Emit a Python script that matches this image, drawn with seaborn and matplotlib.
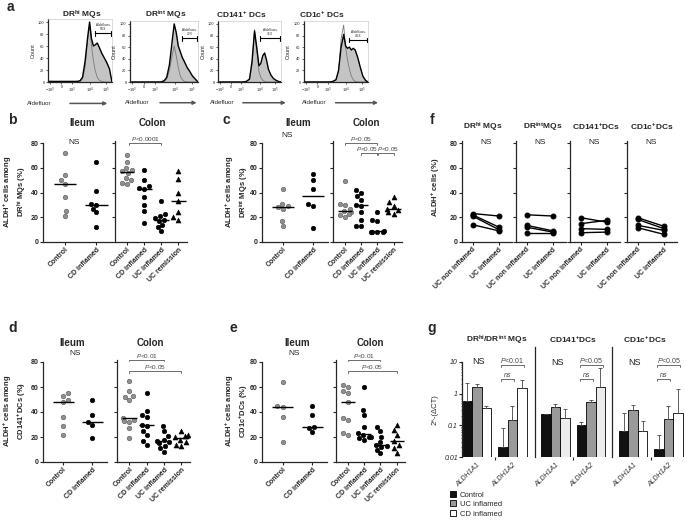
import matplotlib
matplotlib.use("Agg")
import matplotlib.pyplot as plt
from matplotlib.patches import Patch
import numpy as np
import pandas as pd
import seaborn as sns

sns.set_style("ticks")
plt.rcParams["font.family"] = ["Liberation Sans", "DejaVu Sans"]
plt.rcParams["mathtext.fontset"] = "custom"
plt.rcParams["mathtext.rm"] = "Liberation Sans"
plt.rcParams["mathtext.it"] = "Liberation Sans:italic"
plt.rcParams["mathtext.bf"] = "Liberation Sans:bold"
plt.rcParams["axes.linewidth"] = 0.9

W, H = 685, 530

# ---------------- data ----------------
# a: flow histograms (x on a 0-100 display scale, count in % of max)
hist_titles = [r"DR$^{\mathbf{hi}}$ MQs", r"DR$^{\mathbf{int}}$ MQs",
               r"CD141$^{\mathbf{+}}$ DCs", r"CD1c$^{\mathbf{+}}$ DCs"]
hist_x = [0, 40, 45, 50, 54, 58, 62, 65, 68, 71, 74, 77, 80, 84, 88, 92, 96, 100]
hist_sample = [
    [1, 1, 1, 2, 8, 35, 75, 100, 72, 60, 62, 65, 58, 48, 40, 32, 22, 0],
    [0, 0, 0, 2, 8, 30, 70, 100, 85, 62, 52, 42, 35, 25, 18, 10, 5, 0],
    [0, 0, 1, 5, 35, 88, 55, 28, 32, 45, 50, 38, 22, 12, 6, 3, 1, 0],
    [0, 0, 1, 4, 20, 60, 82, 62, 58, 60, 55, 58, 55, 42, 25, 10, 3, 0],
]
hist_control = [
    [0, 0, 0, 1, 5, 25, 70, 95, 60, 35, 18, 8, 3, 1, 0, 0, 0, 0],
    [0, 0, 0, 1, 5, 20, 45, 62, 45, 25, 10, 4, 1, 0, 0, 0, 0, 0],
    [0, 0, 1, 4, 30, 90, 50, 18, 8, 3, 1, 0, 0, 0, 0, 0, 0, 0],
    [0, 0, 1, 3, 18, 75, 98, 60, 38, 22, 10, 4, 1, 0, 0, 0, 0, 0],
]
hist_ticklabels = [r"$-10^3$", "0", r"$10^3$", r"$10^4$", r"$10^5$"]
gate_values = ["50.9", "20.5", "36.0", "44.8"]

# b-e: ALDH+ cells (%) per patient
ileum_groups = ["Control", "CD inflamed"]
colon_groups = ["Control", "CD inflamed", "UC inflamed", "UC remission"]

b_ileum = [[72, 54, 50, 47, 36, 25, 21], [65, 41, 31, 30, 27, 24, 12]]
b_colon = [[70, 65, 60, 58, 57, 56, 52, 50, 48, 47],
           [58, 50, 45, 44, 43, 36, 30, 25, 15],
           [33, 23, 21, 19, 18, 17, 14, 12, 9],
           [57, 51, 40, 33, 24, 20, 18]]

c_ileum = [[43, 31, 29, 28, 27, 17, 13], [55, 50, 43, 31, 29, 11]]
c_colon = [[49, 31, 30, 27, 25, 24, 23, 22, 20],
           [42, 40, 37, 34, 30, 29, 24, 18, 13, 13],
           [24, 18, 17, 9, 8, 8, 8, 8],
           [36, 32, 29, 27, 26, 24, 23]]

d_ileum = [[55, 53, 50, 48, 36, 29, 22], [50, 38, 32, 30, 19]]
d_colon = [[65, 57, 53, 52, 50, 35, 34, 33, 32, 27, 19],
           [55, 41, 38, 36, 30, 29, 25, 22, 17, 14],
           [29, 25, 21, 18, 17, 16, 15, 13, 11, 8],
           [25, 22, 21, 20, 18, 16, 14, 13]]

e_ileum = [[64, 45, 44, 36, 16], [45, 38, 28, 27, 24]]
e_colon = [[62, 60, 57, 55, 48, 35, 34, 23, 22],
           [60, 42, 38, 28, 23, 22, 20, 20, 19, 18],
           [28, 25, 20, 16, 14, 13, 12, 10, 7],
           [30, 26, 22, 17, 14, 11, 7]]

# f: paired UC samples
f_titles = [r"DR$^{\mathbf{hi}}$ MQs", r"DR$^{\mathbf{int}}$MQs",
            r"CD141$^{\mathbf{+}}$DCs", r"CD1c$^{\mathbf{+}}$DCs"]
f_groups = ["UC non inflamed", "UC inflamed"]
f_non_inflamed = [[23, 22, 21, 14], [22, 13.5, 12, 7], [19.7, 14.8, 10.8, 7.5], [19.7, 18.3, 13.5, 11.6]]
f_inflamed = [[21, 12, 10, 9], [21, 9, 8, 7], [16, 17.5, 10.2, 8], [12.7, 10.8, 9.4, 6.2]]

# g: qPCR 2^-(dCT), rows = gene, cols = condition; *_top = top of error bar
g_titles = [r"DR$^{\mathbf{hi}}$/DR$^{\mathbf{int}}$ MQs", r"CD141$^{\mathbf{+}}$DCs", r"CD1c$^{\mathbf{+}}$DCs"]
g_genes = ["ALDH1A1", "ALDH1A2"]
g_conditions = ["Control", "UC inflamed", "CD inflamed"]
g_mq = [[0.57, 1.6, 0.35], [0.021, 0.15, 1.5]]
g_mq_top = [[2.2, 2.0, 0.42], [0.082, 0.4, 2.8]]
g_cd141 = [[0.23, 0.38, 0.17], [0.10, 0.53, 1.6]]
g_cd141_top = [[0.23, 0.48, 0.33], [0.125, 0.65, 6.5]]
g_cd1c = [[0.065, 0.3, 0.065], [0.018, 0.16, 0.25]]
g_cd1c_top = [[0.245, 0.45, 0.135], [0.05, 0.4, 1.4]]
g_sig = ["P<0.01", "P<0.05", "P<0.05"]


fig = plt.figure(figsize=(W / 100, H / 100), dpi=100)


def px_axes(x0, y0, x1, y1):
    return fig.add_axes([x0 / W, 1 - y1 / H, (x1 - x0) / W, (y1 - y0) / H])


def ftext(x, y, s, **kw):
    fig.text(x / W, 1 - y / H, s, **kw)


def bracket(ax, x1, x2, y, label, dy, fs=5, italic_all=False, tx=None):
    ax.plot([x1, x1, x2, x2], [y - dy, y, y, y - dy], color="#555555", lw=0.6, clip_on=False)
    txt = r"$\mathit{" + label + "}$" if italic_all else r"$\mathit{P}$" + label[1:]
    ax.text((x1 + x2) / 2 if tx is None else tx, y, txt, ha="center", va="bottom",
            fontsize=fs, color="#444444")


# ---------------- panel letters ----------------
for letter, (x, y) in zip("abcdefg", [(7, 7), (8, 120), (222, 120), (8, 328), (230, 328), (430, 120), (427, 328)]):
    ftext(x, y, letter, fontsize=10, fontweight="bold", ha="left", va="center")

# ---------------- a ----------------
hist_rects = [(48, 19, 112, 82), (130, 21, 198, 82), (218, 21, 281, 82), (304, 21, 368, 82)]
title_x = [82, 166, 241, 322]
gates = [(74, 98, 81), (76, 99, 75), (66, 99, 75), (70, 99, 72)]
label_off = [-0.33, -0.08, -0.13, -0.03]
arrow_span = [(0.3, 0.97), (0.4, 1.02), (0.35, 1.12), (0.45, 1.2)]
for k in range(4):
    ax = px_axes(*hist_rects[k])
    ax.fill_between(hist_x, hist_sample[k], color="#c4c4c4", lw=0)
    sns.lineplot(x=hist_x, y=hist_control[k], color="#7a7a7a", lw=0.6, ax=ax)
    sns.lineplot(x=hist_x, y=hist_sample[k], color="black", lw=1.0, ax=ax)
    ax.set_xlim(0, 100)
    ax.set_ylim(0, 105)
    ax.set_xticks([3, 21, 37, 66, 91])
    ax.set_xticklabels(hist_ticklabels)
    ax.set_yticks([0, 20, 40, 60, 80, 100])
    ax.tick_params(labelsize=2.8, length=1.5, width=0.5, pad=1)
    ax.set_ylabel("Count", fontsize=4, labelpad=2)
    for s in ["top", "right"]:
        ax.spines[s].set_color("#cccccc")
        ax.spines[s].set_linewidth(0.5)
    gx0, gx1, gy = gates[k]
    ax.plot([gx0, gx1], [gy, gy], color="black", lw=0.8)
    ax.plot([gx0, gx0], [gy - 4, gy + 4], color="black", lw=0.8)
    ax.plot([gx1, gx1], [gy - 4, gy + 4], color="black", lw=0.8)
    ax.text((gx0 + gx1) / 2, gy + 4, "Aldefluor+\n" + gate_values[k], fontsize=2.3,
            ha="center", va="bottom", linespacing=1.0)
    ftext(title_x[k], 15, hist_titles[k], fontsize=6, fontweight="bold", ha="center", va="center")
    ax.text(label_off[k], -0.34, "Aldefluor", transform=ax.transAxes, fontsize=4.5,
            va="center", ha="left")
    ax.annotate("", xy=(arrow_span[k][1], -0.34), xytext=(arrow_span[k][0], -0.34),
                xycoords="axes fraction",
                arrowprops=dict(arrowstyle="-|>", color="#555555", lw=1.1, mutation_scale=5))
    ax.set_xlabel("")


# ---------------- b-e ----------------
def scatter_panel(ileum_x, colon_x, y_zero, y_eighty, ileum_vals, colon_vals, ylabel,
                  label_px, titles_x, title_y, ns_xy, brackets):
    scale = (y_zero - y_eighty) / 80
    top = y_zero - 88 * scale
    ax_i = px_axes(ileum_x[0], top, ileum_x[1], y_zero)
    ax_c = px_axes(colon_x[0], top, colon_x[1], y_zero)
    styles = {"Control": ("#8f8f8f", "o", "#5a5a5a"),
              "CD inflamed": ("black", "o", "black"),
              "UC inflamed": ("black", "o", "black"),
              "UC remission": ("black", "^", "black")}
    for ax, groups, vals, xlim, hw in [(ax_i, ileum_groups, ileum_vals, (-0.7, 1.5), 0.36),
                                       (ax_c, colon_groups, colon_vals, (-0.72, 3.5), 0.42)]:
        df = pd.DataFrame({"group": np.repeat(groups, [len(v) for v in vals]),
                           "value": np.concatenate(vals)})
        for gi, g in enumerate(groups):
            col, mk, ec = styles[g]
            sub = df[df["group"] == g]
            sns.swarmplot(data=sub, x="group", y="value", order=groups, ax=ax, color=col,
                          marker=mk, size=3.3 if mk == "o" else 3.6, edgecolor=ec,
                          linewidth=0.4, warn_thresh=1)
            ax.hlines(np.median(sub["value"]), gi - hw, gi + hw, color="black", lw=1.0, zorder=5)
        ax.set_xlim(*xlim)
        ax.set_ylim(0, 88)
        ax.set_yticks([0, 20, 40, 60, 80])
        ax.set_xlabel("")
        ax.set_ylabel("")
        sns.despine(ax=ax)
        ax.spines["left"].set_bounds(0, 80 if ax is ax_i else 82)
        ax.tick_params(labelsize=5, length=2, width=0.8, pad=1)
        ax.set_xticks(range(len(groups)))
        ax.set_xticklabels(groups, rotation=45, ha="right", rotation_mode="anchor",
                           fontsize=5, fontweight="bold")
        for lbl in ax.get_yticklabels():
            lbl.set_fontweight("bold")
    ax_c.tick_params(axis="y", labelleft=False)
    ftext(label_px, (top + y_zero) / 2 + 4, ylabel, fontsize=5.5, fontweight="bold",
          rotation=90, ha="center", va="center", multialignment="center", linespacing=1.2)
    ftext(titles_x[0], title_y, "Ileum", fontsize=7, fontweight="bold", ha="center", va="center")
    ftext(titles_x[1], title_y, "Colon", fontsize=7, fontweight="bold", ha="center", va="center")
    ax_i.text(ns_xy[0], ns_xy[1], "NS", fontsize=6, ha="center", va="center", color="#222222")
    for x1, x2, y, lab, tx in brackets:
        bracket(ax_c, x1, x2, y, lab, 1.5, fs=4.6, tx=tx)


scatter_panel((43, 112), (115, 187), 242, 143, b_ileum, b_colon,
              "ALDH$^{\\mathbf{+}}$ cells among\nDR$^{\\mathbf{hi}}$ MQs (%)", 15,
              (82, 152), 123, (0.3, 80), [(0.1, 2.0, 80, "P<0.0001", None)])
scatter_panel((262, 328), (333, 402), 242, 143, c_ileum, c_colon,
              "ALDH$^{\\mathbf{+}}$ cells among\nDR$^{\\mathbf{int}}$ MQs (%)", 237,
              (298, 366), 123, (0.15, 86), [(0.0, 2.0, 80, "P<0.05", None),
                                            (1.0, 1.95, 72, "P<0.05", 1.35),
                                            (2.05, 3.0, 72, "P<0.05", 2.65)])
scatter_panel((43, 107), (117, 190), 462, 362, d_ileum, d_colon,
              "ALDH$^{\\mathbf{+}}$ cells among\nCD141$^{\\mathbf{+}}$DCs (%)", 15,
              (72, 150), 343, (0.4, 87), [(0.0, 2.0, 82, "P<0.01", None),
                                          (0.0, 3.0, 73, "P<0.05", None)])
scatter_panel((262, 327), (336, 405), 462, 362, e_ileum, e_colon,
              "ALDH$^{\\mathbf{+}}$ cells among\nCD1c$^{\\mathbf{+}}$DCs (%)", 237,
              (297, 370), 343, (0.4, 87), [(0.0, 2.0, 82, "P<0.01", None),
                                           (0.0, 3.0, 73, "P<0.05", None)])

# ---------------- f ----------------
f_x0 = [462, 516, 570, 627]
f_title_x = [483, 543, 596, 652]
scale = (242 - 143) / 80
for k in range(4):
    ax = px_axes(f_x0[k], 242 - 88 * scale, f_x0[k] + 50, 242)
    df = pd.DataFrame({"pos": [0] * 4 + [1] * 4,
                       "value": f_non_inflamed[k] + f_inflamed[k],
                       "subject": list(range(4)) * 2})
    sns.lineplot(data=df, x="pos", y="value", units="subject", estimator=None, color="black",
                 marker="o", markersize=3.5, markeredgecolor="black", lw=1.0, ax=ax)
    ax.set_xlim(-0.4, 1.5)
    ax.set_ylim(0, 88)
    ax.set_yticks([0, 20, 40, 60, 80])
    ax.set_xticks([0, 1])
    ax.set_xticklabels(f_groups, rotation=45, ha="right", rotation_mode="anchor",
                       fontsize=5, fontweight="bold")
    ax.set_xlabel("")
    ax.set_ylabel("")
    sns.despine(ax=ax)
    ax.spines["left"].set_bounds(0, 82)
    ax.tick_params(labelsize=5, length=2, width=0.8, pad=1)
    for lbl in ax.get_yticklabels():
        lbl.set_fontweight("bold")
    if k > 0:
        ax.tick_params(axis="y", labelleft=False)
    else:
        ax.set_ylabel("ALDH$^{\\mathbf{+}}$ cells (%)", fontsize=5.5, fontweight="bold", labelpad=6)
    ax.text(0.5, 80, "NS", fontsize=6, ha="center", va="center", color="#222222")
    ftext(f_title_x[k], 127, f_titles[k], fontsize=6, fontweight="bold", ha="center", va="center")

# ---------------- g ----------------
g_rects = [(462, 362, 529, 457, 10), (535, 347, 607, 457, 30), (612, 347, 685, 457, 30)]
g_xlims = [(-0.42, 1.47), (-0.57, 1.45), (-0.6, 1.47)]
g_title_x = [497, 573, 645]
g_vals = [g_mq, g_cd141, g_cd1c]
g_tops = [g_mq_top, g_cd141_top, g_cd1c_top]
g_white = ["white", "#ececec", "white"]
offsets = [-0.8 / 3, 0, 0.8 / 3]
for k in range(3):
    x0, y0, x1, y1, ytop = g_rects[k]
    ax = px_axes(x0, y0, x1, y1)
    df = pd.DataFrame({"gene": np.repeat(g_genes, 3),
                       "condition": g_conditions * 2,
                       "value": np.ravel(g_vals[k])})
    pal = {"Control": "#111111", "UC inflamed": "#9a9a9a", "CD inflamed": g_white[k]}
    sns.barplot(data=df, x="gene", y="value", hue="condition", hue_order=g_conditions,
                order=g_genes, palette=pal, edgecolor="black", linewidth=0.6,
                errorbar=None, legend=False, width=0.8, ax=ax)
    for gi in range(2):
        for ci in range(3):
            v = g_vals[k][gi][ci]
            t = g_tops[k][gi][ci]
            ax.errorbar(gi + offsets[ci], v, yerr=[[0], [t - v]], fmt="none",
                        ecolor="#444444", elinewidth=0.6, capsize=1.3, capthick=0.6)
    ax.set_yscale("log")
    ax.set_ylim(0.01, ytop)
    ax.set_xlim(*g_xlims[k])
    ax.set_xlabel("")
    ax.set_ylabel("")
    sns.despine(ax=ax, bottom=True)
    ax.set_xticks([0, 1])
    ax.set_xticklabels(g_genes, rotation=45, ha="right", rotation_mode="anchor",
                       fontsize=5, fontstyle="italic", color="#333333")
    ax.set_xticks([0.5], minor=True)
    ax.tick_params(axis="x", which="major", length=0, pad=3)
    ax.tick_params(axis="x", which="minor", length=2, width=0.8)
    if k == 0:
        ax.set_yticks([0.01, 0.1, 1, 10])
        ax.set_yticklabels(["0.01", "0.1", "1", "10"], fontstyle="italic")
        ax.tick_params(axis="y", labelsize=5, length=2, width=0.8, pad=1)
        ax.tick_params(axis="y", which="minor", length=1, width=0.5)
        ax.set_ylabel("2^-(ΔCT)", fontsize=5.5, labelpad=4)
    else:
        ax.tick_params(axis="y", which="both", left=False, labelleft=False)
    ax.text(0.05, 10, "NS", fontsize=6.5, ha="center", va="center", color="#222222")
    bracket(ax, 0.68, 1.33, 8.0, g_sig[k], 1.2)
    bracket(ax, 0.68, 1.05, 2.9, "ns", 0.4, italic_all=True)
    ftext(g_title_x[k], 340, g_titles[k], fontsize=6, fontweight="bold", ha="center", va="center")

handles = [Patch(facecolor=c, edgecolor="black", linewidth=0.6) for c in ["#111111", "#9a9a9a", "white"]]
fig.legend(handles, g_conditions, loc="upper left", bbox_to_anchor=(450 / W, 1 - 491 / H),
           frameon=False, fontsize=5.5, handlelength=0.8, handleheight=0.8, labelspacing=0.25,
           handletextpad=0.5, borderaxespad=0, borderpad=0)

fig.savefig("out.png", dpi=100)
